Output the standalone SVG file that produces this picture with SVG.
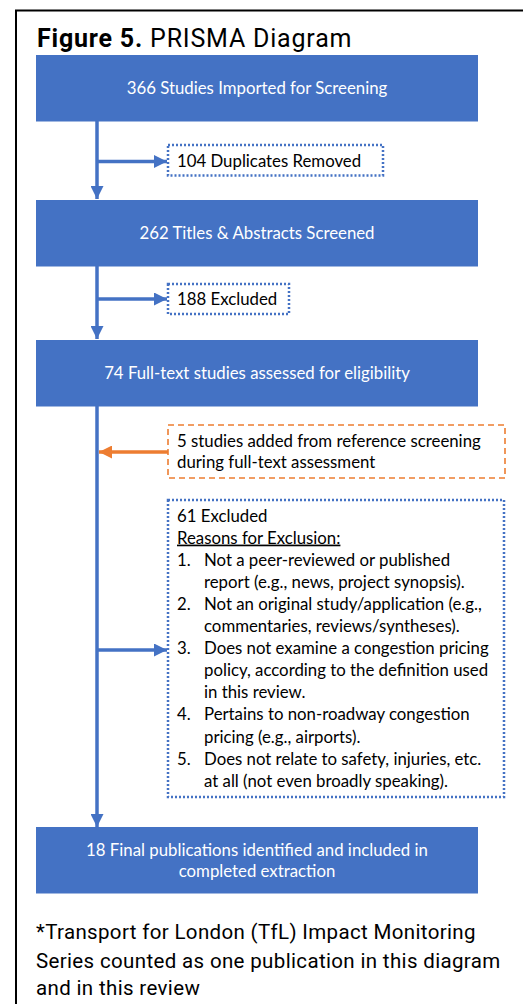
<svg xmlns="http://www.w3.org/2000/svg" width="523" height="1004" viewBox="0 0 523 1004">
<defs>
<style>
.box{fill:#4472C4}
.bt{font-family:Lato,"Open Sans",sans-serif;font-size:16.8px;fill:#fff;text-anchor:middle}
.t{font-family:Lato,"Open Sans",sans-serif;font-size:16.8px;fill:#000}
.dot{fill:#fff;stroke:#4472C4;stroke-width:2.5;stroke-dasharray:2 2}
.dash{fill:#fff;stroke:#ED7D31;stroke-width:1.6;stroke-dasharray:6 4}
.ln{stroke:#4472C4;stroke-width:3.5;fill:none}
.lno{stroke:#ED7D31;stroke-width:3.5;fill:none}
.r{font-family:Roboto,"Liberation Sans",sans-serif;fill:#000}
</style>
<marker id="ab" viewBox="0 0 10 10" refX="10" refY="5" markerWidth="13" markerHeight="13" markerUnits="userSpaceOnUse" orient="auto"><path d="M0,0 L10,5 L0,10 z" fill="#4472C4"/></marker>
<marker id="ao" viewBox="0 0 10 10" refX="10" refY="5" markerWidth="13" markerHeight="13" markerUnits="userSpaceOnUse" orient="auto"><path d="M0,0 L10,5 L0,10 z" fill="#ED7D31"/></marker>
</defs>
<rect width="523" height="1004" fill="#fff"/>
<g id="frame">
<line x1="15" y1="10.5" x2="523" y2="10.5" stroke="#000" stroke-width="2"/>
<line x1="16" y1="10" x2="16" y2="1004" stroke="#000" stroke-width="2"/>
</g>
<g id="title"><text class="r" x="37" y="46.5" font-size="25" letter-spacing="0.8"><tspan font-weight="bold">Figure 5.</tspan> PRISMA Diagram</text></g>
<g id="connectors">
<line class="ln" x1="97" y1="121" x2="97" y2="199" marker-end="url(#ab)"/>
<line class="ln" x1="97" y1="161.5" x2="167" y2="161.5" marker-end="url(#ab)"/>
<line class="ln" x1="97" y1="266" x2="97" y2="339" marker-end="url(#ab)"/>
<line class="ln" x1="97" y1="299" x2="167" y2="299" marker-end="url(#ab)"/>
<line class="ln" x1="97" y1="406" x2="97" y2="827" marker-end="url(#ab)"/>
<line class="ln" x1="97" y1="650" x2="167" y2="650" marker-end="url(#ab)"/>
<line class="lno" x1="168" y1="452" x2="99" y2="452" marker-end="url(#ao)"/>
</g>
<g id="n1"><rect class="box" x="36" y="55" width="442" height="66.5"/><text class="bt" x="257" y="94">366 Studies Imported for Screening</text></g>
<g id="n2"><rect class="dot" x="168" y="145" width="215" height="30.5"/><text class="t" x="177" y="166.5">104 Duplicates Removed</text></g>
<g id="n3"><rect class="box" x="36" y="200" width="442" height="66.5"/><text class="bt" x="257" y="239">262 Titles &amp; Abstracts Screened</text></g>
<g id="n4"><rect class="dot" x="168" y="284" width="121" height="30"/><text class="t" x="177" y="305">188 Excluded</text></g>
<g id="n5"><rect class="box" x="36" y="340" width="442" height="66.5"/><text class="bt" x="257" y="379">74 Full-text studies assessed for eligibility</text></g>
<g id="n6"><rect class="dash" x="168" y="425" width="337" height="53"/>
<text class="t" x="177" y="446.5">5 studies added from reference screening</text>
<text class="t" x="177" y="468">during full-text assessment</text></g>
<g id="n7"><rect class="dot" x="168" y="500" width="336" height="297"/>
<text class="t" x="177" y="521.5">61 Excluded</text>
<text class="t" x="177" y="543.6" text-decoration="underline">Reasons for Exclusion:</text>
<text class="t" x="177" y="565.7">1.</text>
<text class="t" x="204" y="565.7">Not a peer-reviewed or published</text>
<text class="t" x="204" y="587.8">report (e.g., news, project synopsis).</text>
<text class="t" x="177" y="609.9">2.</text>
<text class="t" x="204" y="609.9">Not an original study/application (e.g.,</text>
<text class="t" x="204" y="632">commentaries, reviews/syntheses).</text>
<text class="t" x="177" y="654.1">3.</text>
<text class="t" x="204" y="654.1">Does not examine a congestion pricing</text>
<text class="t" x="204" y="676.2">policy, according to the definition used</text>
<text class="t" x="204" y="698.3">in this review.</text>
<text class="t" x="177" y="720.4">4.</text>
<text class="t" x="204" y="720.4">Pertains to non-roadway congestion</text>
<text class="t" x="204" y="742.5">pricing (e.g., airports).</text>
<text class="t" x="177" y="764.6">5.</text>
<text class="t" x="204" y="764.6">Does not relate to safety, injuries, etc.</text>
<text class="t" x="204" y="786.7">at all (not even broadly speaking).</text></g>
<g id="n8"><rect class="box" x="36" y="827" width="442" height="66.5"/>
<text class="bt" x="257" y="855.5">18 Final publications identified and included in</text>
<text class="bt" x="257" y="877">completed extraction</text></g>
<g id="note"><text class="r" font-size="20.5" letter-spacing="0.35" x="36" y="939">*Transport for London (TfL) Impact Monitoring</text>
<text class="r" font-size="20.5" letter-spacing="0.35" x="36" y="967.5">Series counted as one publication in this diagram</text>
<text class="r" font-size="20.5" letter-spacing="0.35" x="36" y="995">and in this review</text></g>
</svg>
